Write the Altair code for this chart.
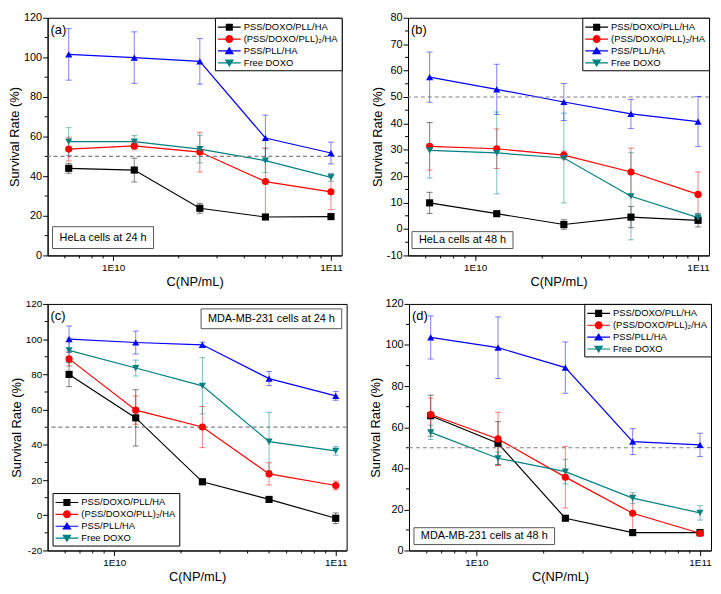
import altair as alt
import pandas as pd

FONT = "Liberation Sans"

# concentrations (NP/mL)
conc = [6.25e9, 1.25e10, 2.5e10, 5e10, 1e11]
series = ["PSS/DOXO/PLL/HA", "(PSS/DOXO/PLL)\u2082/HA", "PSS/PLL/HA", "Free DOXO"]
colors = ["#000000", "#ff0000", "#0000ff", "#008080"]
shapes = ["square", "circle", "triangle-up", "triangle-down"]

x_major = [1e10, 1e11]
x_minor = [6e9, 7e9, 8e9, 9e9, 2e10, 3e10, 4e10, 5e10, 6e10, 7e10, 8e10, 9e10]

# (a) HeLa 24 h
a_vals = [
    [44.0, 43.1, 23.8, 19.4, 19.6],
    [53.7, 55.3, 52.2, 37.3, 32.1],
    [101.5, 99.9, 98.0, 59.3, 51.7],
    [57.5, 57.5, 53.7, 47.9, 39.4],
]
a_errs = [
    [2.5, 6.0, 2.5, 1.0, 1.0],
    [6.0, 2.0, 10.0, 17.0, 9.0],
    [13.0, 13.0, 11.5, 11.5, 5.5],
    [7.0, 3.0, 7.0, 6.0, 2.0],
]
# (b) HeLa 48 h
b_vals = [
    [9.9, 5.8, 1.7, 4.5, 3.3],
    [31.3, 30.4, 28.0, 21.6, 13.1],
    [57.5, 52.9, 48.1, 43.6, 40.7],
    [29.8, 28.8, 26.9, 12.4, 4.3],
]
b_errs = [
    [4.0, 0.8, 1.8, 4.0, 2.5],
    [9.0, 7.5, 1.5, 9.0, 8.5],
    [9.5, 9.5, 7.0, 5.5, 9.5],
    [10.5, 15.5, 17.0, 16.5, 1.5],
]
# (c) MDA-MB-231 24 h
c_vals = [
    [80.0, 55.3, 19.0, 9.0, -1.7],
    [88.8, 59.7, 50.1, 23.5, 16.9],
    [100.0, 98.1, 96.8, 77.6, 67.8],
    [93.6, 83.6, 73.5, 41.8, 36.6],
]
c_errs = [
    [7.0, 16.0, 1.5, 1.0, 3.0],
    [4.0, 8.0, 11.7, 6.3, 2.5],
    [7.5, 6.5, 1.5, 4.0, 2.5],
    [7.0, 4.5, 16.0, 16.5, 2.5],
]
# (d) MDA-MB-231 48 h
d_vals = [
    [65.6, 52.2, 15.7, 8.7, 8.7],
    [66.2, 54.3, 35.7, 18.1, 8.4],
    [103.7, 98.7, 89.0, 53.0, 51.4],
    [57.5, 44.9, 38.4, 25.5, 18.3],
]
d_errs = [
    [10.0, 10.5, 0.5, 1.0, 1.0],
    [8.0, 13.0, 15.0, 9.0, 1.5],
    [10.5, 15.0, 12.5, 6.3, 5.7],
    [3.5, 3.0, 6.0, 2.7, 3.5],
]

# legend symbols: a line segment with the marker on it
LINE = "M-1,-0.09H2.54V0.09H-1Z"
leg_paths = [
    LINE + "M0.22,-0.55H1.32V0.55H0.22Z",
    LINE + "M0.15,0A0.62,0.62 0 1,1 1.39,0A0.62,0.62 0 1,1 0.15,0Z",
    LINE + "M0.77,-0.64L1.5,0.52L0.04,0.52Z",
    LINE + "M0.04,-0.52L1.5,-0.52L0.77,0.64Z",
]


def panel(letter, vals, errs, ydom, ymaj, ymin, note, box, text_xy,
          leg_orient, leg_offset, W, H, ylab_size=11):
    rows = []
    for s, v, e in zip(series, vals, errs):
        for c, y, d in zip(conc, v, e):
            rows.append({"c": c, "series": s, "y": y, "lo": y - d, "hi": y + d})
    df = pd.DataFrame(rows)

    xs = alt.Scale(type="log", domain=[5e9, 1.12e11], nice=False)
    ys = alt.Scale(domain=ydom, nice=False, zero=False)
    xax = alt.Axis(values=x_major, labelExpr="datum.value < 3e10 ? '1E10' : '1E11'",
                   title="C(NP/mL)", labelFontSize=10, titleFontSize=13, tickSize=5,
                   labelPadding=2, titlePadding=3, grid=False)
    yax = alt.Axis(values=ymaj, labelExpr="'' + datum.value", title="Survival Rate (%)",
                   labelFontSize=ylab_size, titleFontSize=13, tickSize=5,
                   labelPadding=1, titlePadding=2, grid=False)
    col = alt.Color("series:N", scale=alt.Scale(domain=series, range=colors), legend=None)

    base = alt.Chart(df)
    err = base.mark_errorbar(ticks=True, size=6, thickness=1, opacity=0.5).encode(
        x=alt.X("c:Q", scale=xs, axis=xax), y=alt.Y("lo:Q", scale=ys, axis=yax),
        y2="hi:Q", color=col)
    line = base.mark_line(strokeWidth=1.2).encode(
        x=alt.X("c:Q", scale=xs, axis=xax), y=alt.Y("y:Q", scale=ys, axis=yax), color=col)
    pts = base.mark_point(filled=True, size=52, opacity=1).encode(
        x=alt.X("c:Q", scale=xs, axis=xax), y=alt.Y("y:Q", scale=ys, axis=yax), color=col,
        shape=alt.Shape("series:N", scale=alt.Scale(domain=series, range=shapes), legend=None))

    leg = alt.Legend(title=None, orient=leg_orient, offset=leg_offset, labelFont=FONT,
                     labelFontSize=9.5, labelColor="black", symbolSize=169, symbolOpacity=1,
                     labelOffset=13, padding=3, rowPadding=1, strokeColor="black",
                     fillColor="white", symbolStrokeWidth=0)
    legend_layer = base.mark_point(filled=True, opacity=0).encode(
        x=alt.X("c:Q", scale=xs, axis=xax), y=alt.Y("y:Q", scale=ys, axis=yax),
        color=alt.Color("series:N", scale=alt.Scale(domain=series, range=colors), legend=leg),
        shape=alt.Shape("series:N", scale=alt.Scale(domain=series, range=leg_paths), legend=leg))

    half = alt.Chart(pd.DataFrame({"y": [50]})).mark_rule(
        color="#808080", strokeDash=[4, 3], strokeWidth=1.2).encode(
        y=alt.Y("y:Q", scale=ys, axis=yax))

    xminor = alt.Chart(pd.DataFrame({"c": x_minor})).mark_rule(color="black").encode(
        x=alt.X("c:Q", scale=xs, axis=xax), y=alt.value(H), y2=alt.value(H + 3))
    yminor = alt.Chart(pd.DataFrame({"y": ymin})).mark_rule(color="black").encode(
        y=alt.Y("y:Q", scale=ys, axis=yax), x=alt.value(0), x2=alt.value(-3))

    ann = pd.DataFrame({"t": [note]})
    rect = alt.Chart(ann).mark_rect(fill="white", stroke="#555555", strokeWidth=1).encode(
        x=alt.value(box[0]), x2=alt.value(box[1]), y=alt.value(box[2]), y2=alt.value(box[3]))
    txt = alt.Chart(ann).mark_text(font=FONT, fontSize=11, color="black",
                                   align="center", baseline="middle").encode(
        x=alt.value(text_xy[0]), y=alt.value(text_xy[1]), text="t:N")
    lab = alt.Chart(pd.DataFrame({"t": [letter]})).mark_text(
        font=FONT, fontSize=13, color="black", align="left", baseline="middle").encode(
        x=alt.value(3), y=alt.value(12), text="t:N")

    return alt.layer(line, half, xminor, yminor, err, pts, legend_layer, rect, txt, lab).resolve_scale(
        color="independent", shape="independent").properties(width=W, height=H)


Ha, Hc = 240, 249
pa = panel("(a)", a_vals, a_errs, [0, 120], list(range(0, 121, 20)), list(range(10, 120, 20)),
           "HeLa cells at 24 h", (5, 107, Ha - 29, Ha - 7), (56, Ha - 18),
           "top-right", 0, 297, Ha)
pb = panel("(b)", b_vals, b_errs, [-10, 80], list(range(-10, 81, 10)), list(range(-5, 80, 10)),
           "HeLa cells at 48 h", (4, 106, Ha - 24, Ha - 7), (55, Ha - 15.5),
           "top-right", 0, 304, Ha)
Wc = 302
pc = panel("(c)", c_vals, c_errs, [-20, 120], list(range(-20, 121, 20)), list(range(-10, 120, 20)),
           "MDA-MB-231 cells at 24 h", (Wc - 147, Wc - 5, 5, 25), (Wc - 76, 15),
           "bottom-left", 5, Wc, Hc, ylab_size=10)
pd_ = panel("(d)", d_vals, d_errs, [0, 120], list(range(0, 121, 20)), list(range(10, 120, 20)),
            "MDA-MB-231 cells at 48 h", (5, 147, Hc - 23, Hc - 6), (76, Hc - 14.5),
            "top-right", 0, 305, Hc)

row1 = alt.hconcat(pa, pb, spacing=27).resolve_scale(color="independent", shape="independent")
row2 = alt.hconcat(pc, pd_, spacing=21).resolve_scale(color="independent", shape="independent")

chart = alt.vconcat(row1, row2, spacing=8).resolve_scale(
    color="independent", shape="independent").properties(
    padding={"left": 0, "top": 0, "right": 0, "bottom": 0}, background="white"
).configure_view(stroke="black", strokeWidth=1).configure_axis(
    domainColor="black", tickColor="black", labelColor="black", titleColor="black",
    labelFont=FONT, titleFont=FONT, titleFontWeight="normal", grid=False
)

chart.save("out.html", embed_options={"renderer": "svg", "actions": False})
